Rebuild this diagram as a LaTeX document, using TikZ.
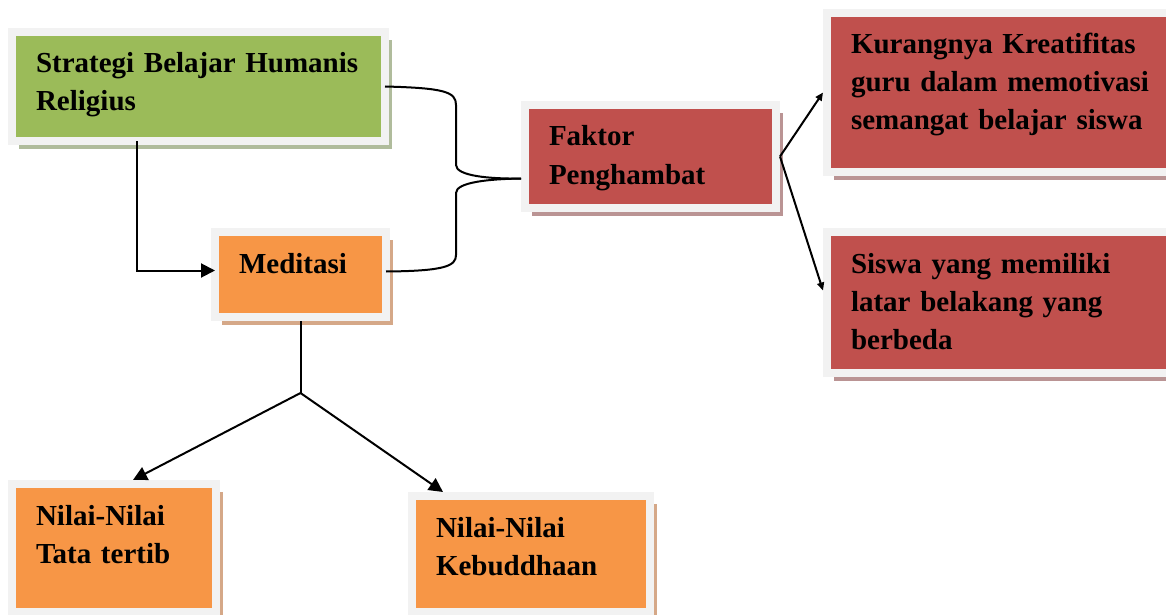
\documentclass[tikz,border=0pt]{standalone}
\usepackage{fontspec}
\setmainfont{Liberation Serif}
\usepackage{tikz}
\usetikzlibrary{arrows.meta}
\usetikzlibrary{positioning}
\usetikzlibrary{shadows}
\usetikzlibrary{calc}

\definecolor{hijau}{RGB}{155,187,89}
\definecolor{oranye}{RGB}{247,150,70}
\definecolor{merah}{RGB}{192,80,77}
\definecolor{bingkai}{RGB}{242,242,242}
\definecolor{bayanghijau}{RGB}{176,188,156}
\definecolor{bayangoranye}{RGB}{213,168,136}
\definecolor{bayangmerah}{RGB}{186,148,148}

\tikzstyle{kotak}=[anchor=north west,draw=bingkai,line width=8pt,outer sep=0pt,inner xsep=24pt,inner ysep=4pt,text height=37pt,align=left,font=\bfseries\fontsize{29}{38}\selectfont]
\tikzstyle{kotakhijau}=[kotak,fill=hijau,drop shadow={shadow xshift=7pt,shadow yshift=-8pt,opacity=1,fill=bayanghijau}]
\tikzstyle{kotakoranye}=[kotak,fill=oranye,drop shadow={shadow xshift=7pt,shadow yshift=-8pt,opacity=1,fill=bayangoranye}]
\tikzstyle{kotakmerah}=[kotak,fill=merah,drop shadow={shadow xshift=7pt,shadow yshift=-8pt,opacity=1,fill=bayangmerah}]
\tikzstyle{garis}=[line width=2pt]
\tikzstyle{panah}=[garis,-{Triangle[length=14pt,width=14pt]}]
\tikzstyle{panahkecil}=[garis,-{Triangle[length=8pt,width=7pt]}]

\begin{document}
\begin{tikzpicture}[x=1pt,y=-1pt]
\useasboundingbox (0,0) rectangle (1166,615);

\node[kotakhijau,text width=325pt,text depth=64pt] at (12,32)(sbh) {Strategi Belajar Humanis\\Religius};
\node[kotakoranye,text width=123pt,text depth=40pt] at (215,232)(med) {Meditasi};
\node[kotakmerah,text width=203pt,text depth=58pt] at (525,105)(fak) {Faktor\\Penghambat};
\node[kotakmerah,text width=304pt,text depth=114pt] at (827,13)(kur) {Kurangnya Kreatifitas\\guru dalam memotivasi\\semangat belajar siswa};
\node[kotakmerah,text width=304pt,text depth=96pt] at (827,232)(sis) {Siswa yang memiliki\\latar belakang yang\\berbeda};
\node[kotakoranye,text width=156pt,text depth=83pt] at (12,484)(tata) {Nilai-Nilai\\Tata tertib};
\node[kotakoranye,text width=190pt,text depth=71pt] at (412,496)(budd) {Nilai-Nilai\\Kebuddhaan};

\draw[panah] ([xshift=125pt]sbh.south west) |- ([yshift=4pt]med.west);

% kurung menuju faktor penghambat
\draw[garis] (sbh.east) .. controls (445,88) and (456,92) .. (456,105) -- (456,165) .. controls (456,176) and (490,179) .. ([xshift=-4pt,yshift=-22pt]fak.west);
\draw[garis] ([yshift=3pt]med.east) .. controls (445,271) and (456,266) .. (456,255) -- (456,193) .. controls (456,182) and (490,179) .. ([xshift=-4pt,yshift=-22pt]fak.west);

\draw[panahkecil] ([xshift=4pt]fak.east) -- ([xshift=-4pt]kur.west);
\draw[panahkecil] ([xshift=4pt]fak.east) -- ([xshift=-4pt,yshift=12pt]sis.west);

\coordinate (cabang) at ([yshift=-76pt]med.south);
\draw[garis] ([yshift=-4pt]med.south) -- (cabang);
\draw[panah] (cabang) -- ([xshift=121pt,yshift=4pt]tata.north west);
\draw[panah] (cabang) -- ([xshift=31pt,yshift=4pt]budd.north west);
\end{tikzpicture}
\end{document}
